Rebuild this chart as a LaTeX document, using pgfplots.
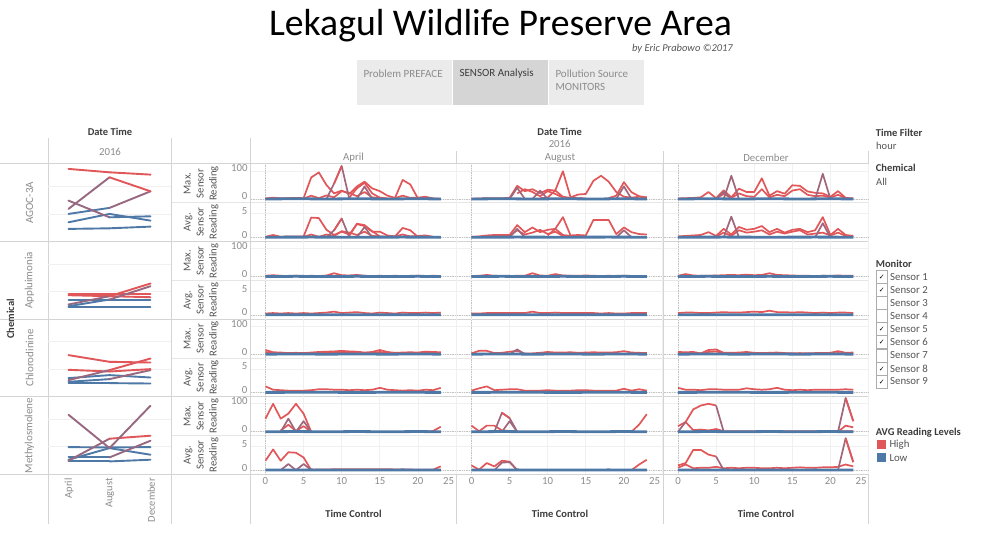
\documentclass[border=0pt]{standalone}
\usepackage{pgfplots}
\pgfplotsset{compat=1.18}
\usepackage{fontspec}
\setmainfont{Carlito}
\newfontfamily\dejavu{DejaVu Sans}
\definecolor{tred}{HTML}{E15759}
\definecolor{tblue}{HTML}{4E79A7}
\colorlet{tpurp}{tred!55!tblue}
\definecolor{tickc}{HTML}{8C8C8C}
\definecolor{gridc}{HTML}{F0F0F0}
\definecolor{dotc}{HTML}{C4C4C4}
\definecolor{sepc}{HTML}{D4D4D4}
\definecolor{sepl}{HTML}{E6E6E6}
\definecolor{darkt}{HTML}{3C3C3C}
\definecolor{midt}{HTML}{555555}
\definecolor{grayt}{HTML}{8C8C8C}
\definecolor{btn}{HTML}{EBEBEB}
\definecolor{btnd}{HTML}{D5D5D5}
\newcommand\fs[1]{\fontsize{#1}{#1}\selectfont}
\newcommand\R{\addplot[draw=tred, line width=1.7pt]}
\newcommand\Pu{\addplot[draw=tpurp, line width=1.7pt]}
\newcommand\B{\addplot[draw=tblue, line width=2.8pt]}
\newcommand\LL{\addplot[mesh, shader=flat mean, point meta=explicit, line width=1.9pt, line cap=round]}
\pgfplotsset{
 P/.style={scale only axis, clip=false, width=205pt, height=38.8pt, anchor=north west,
  xmin=-1.9, xmax=25, xtick={0,5,10,15,20,25},
  axis line style={draw=none}, tick style={draw=none},
  xmajorgrids, ymajorgrids, major grid style={draw=gridc, line width=0.7pt},
  xticklabels={}, yticklabels={},
  extra x ticks={0}, extra y ticks={0}, extra x tick labels={}, extra y tick labels={},
  extra tick style={grid=major, major grid style={draw=dotc, densely dotted, line width=0.7pt}},
  ticklabel style={font=\fs{10.8}, color=tickc},
  every axis plot/.append style={line join=round}},
 MX/.style={ymin=-13.6, ymax=125, ytick={0,100}},
 AV/.style={ymin=-0.91, ymax=7.34, ytick={0,5}},
 MXL/.style={yticklabels={0,100}, yticklabel style={yshift=2.5pt}},
 AVL/.style={yticklabels={0,5}, yticklabel style={yshift=2.5pt}},
 XL/.style={xticklabels={0,5,10,15,20,\makebox[0pt][r]{25\hspace{2pt}}}},
 LP/.style={scale only axis, clip=false, width=123pt, height=77.6pt, anchor=north west,
  xmin=-0.5, xmax=2.5, ymin=0, ymax=77.6, axis line style={draw=none}, tick style={draw=none},
  xtick=\empty, ytick={27.6,55.2}, yticklabels={}, ymajorgrids, major grid style={draw=gridc, line width=0.7pt},
  colormap={rb}{rgb255=(78,121,167) rgb255=(225,87,89)}, point meta min=0, point meta max=1}
}
\begin{document}
\begin{tikzpicture}
\fill[white] (0,0) rectangle (1000pt,-558pt);
\path[use as bounding box] (0,0) rectangle (1000pt,-558pt);
\begin{scope}[x=1pt,y=-1pt]
% buttons
\fill[btn] (356.7,60) rectangle (451.7,105);
\fill[btnd] (453,60) rectangle (547.7,105);
\fill[btn] (549.3,60) rectangle (643.7,105);
% separators
\foreach \yy in {202.8,280.4,358,435.6} {\draw[sepl, line width=0.9pt] (172,\yy) -- (868.7,\yy);}
\foreach \yy in {163.5,241.6,319.2,396.8,474.4} {\draw[sepc, line width=1.1pt] (0,\yy) -- (868.7,\yy);}
\draw[sepc, line width=1pt] (48,138) -- (48,524);
\draw[sepc, line width=1pt] (171.5,138) -- (171.5,524);
\draw[sepc, line width=1pt] (250.7,138) -- (250.7,524);
\draw[sepc, line width=1pt] (456.7,151) -- (456.7,524);
\draw[sepc, line width=1pt] (663.2,151) -- (663.2,524);
\draw[sepc, line width=1pt] (868.7,151) -- (868.7,524);
\end{scope}

% ===== left panels =====
\begin{axis}[LP, at={(48pt,-164pt)}]
\LL coordinates {(0,72.7) [1] (1,69.3) [1] (2,67) [1]};
\LL coordinates {(0,12.7) [0] (1,13.3) [0] (2,15) [0]};
\LL coordinates {(0,19.3) [0] (1,27.7) [0] (2,21) [0]};
\LL coordinates {(0,27.7) [0] (1,33.7) [0] (2,50.3) [1]};
\LL coordinates {(0,41) [1] (1,24.3) [0] (2,25.3) [0]};
\LL coordinates {(0,32.7) [0] (1,64.3) [1] (2,50.3) [1]};
\end{axis}
\begin{axis}[LP, at={(48pt,-241.6pt)}]
\LL coordinates {(0,12.3) [0] (1,12.3) [0] (2,12.3) [0]};
\LL coordinates {(0,19) [0] (1,19) [0] (2,19) [0]};
\LL coordinates {(0,25.3) [1] (1,25.3) [1] (2,25.3) [1]};
\LL coordinates {(0,24) [1] (1,23) [1] (2,22) [1]};
\LL coordinates {(0,14.7) [0] (1,23) [1] (2,35.7) [1]};
\LL coordinates {(0,13) [0] (1,19.7) [0] (2,33) [1]};
\end{axis}
\begin{axis}[LP, at={(48pt,-319.2pt)}]
\LL coordinates {(0,13.7) [0] (1,13.7) [0] (2,13.3) [0]};
\LL coordinates {(0,18.7) [0] (1,21.7) [0] (2,19.3) [0]};
\LL coordinates {(0,15) [0] (1,17.7) [0] (2,26.7) [1]};
\LL coordinates {(0,41.7) [1] (1,35) [1] (2,34.3) [1]};
\LL coordinates {(0,27) [1] (1,25.3) [1] (2,27.7) [1]};
\LL coordinates {(0,16.7) [0] (1,26.7) [1] (2,38.3) [1]};
\end{axis}
\begin{axis}[LP, at={(48pt,-396.8pt)}]
\LL coordinates {(0,13) [0] (1,13) [0] (2,14.7) [0]};
\LL coordinates {(0,27.3) [0] (1,27) [0] (2,27.3) [0]};
\LL coordinates {(0,14.7) [0] (1,26.3) [0] (2,19.7) [0]};
\LL coordinates {(0,17) [0] (1,17) [0] (2,33.7) [1]};
\LL coordinates {(0,13.7) [0] (1,35.7) [1] (2,38.7) [1]};
\LL coordinates {(0,59.7) [1] (1,26.3) [0] (2,68.7) [1]};
\end{axis}

% ===== row 1: Max AGOC-3A =====
\begin{axis}[P, MX, MXL, at={(251pt,-164pt)}]
\R coordinates {(0,2)(1,5)(2,2)(3,3)(4,4)(5,3)(6,77)(7,95)(8,50)(9,20)(10,30)(11,18)(12,45)(13,62)(14,38)(15,28)(16,12)(17,4)(18,68)(19,52)(20,2)(21,3)(22,1)(23,1)};
\R coordinates {(0,1)(3,2)(5,1)(6,12)(7,3)(8,13)(9,6)(10,28)(11,22)(12,10)(13,25)(14,6)(15,3)(16,1)(17,3)(18,12)(19,4)(20,5)(21,8)(22,2)(23,0)};
\R coordinates {(11,5)(12,38)(13,58)(14,20)(15,5)(16,2)};
\Pu coordinates {(8,0)(9,55)(10,118)(11,0)};
\R coordinates {(9,55)(10,118)};
\Pu coordinates {(12,0)(13,45)(14,0)};
\B coordinates {(0,0)(4,1)(8,0)(12,1)(16,0)(20,1)(23,0)};
\end{axis}
\begin{axis}[P, MX, at={(457pt,-164pt)}]
\R coordinates {(0,1)(1,2)(2,3)(3,3)(4,3)(5,4)(6,47)(7,28)(8,35)(9,21)(10,33)(11,30)(12,8)(13,4)(14,3)(15,2)};
\R coordinates {(6,20)(7,35)(8,25)(9,10)(10,28)(11,18)(12,5)};
\R coordinates {(9,3)(10,5)(11,31)(12,99)(13,6)(14,16)(15,18)(16,65)(17,83)(18,62)(19,25)(20,8)(21,5)(22,8)(23,6)};
\R coordinates {(18,3)(19,12)(20,60)(21,24)(22,10)(23,5)};
\Pu coordinates {(5,0)(6,40)(7,0)};
\Pu coordinates {(8,0)(9,30)(10,0)};
\Pu coordinates {(19,0)(20,45)(21,0)};
\B coordinates {(0,0)(4,1)(8,0)(12,1)(16,0)(20,1)(23,0)};
\end{axis}
\begin{axis}[P, MX, at={(663.5pt,-164pt)}]
\R coordinates {(0,2)(1,3)(2,4)(3,6)(4,25)(5,3)(6,31)(7,6)(8,37)(9,25)(10,25)(11,74)(12,12)(13,28)(14,19)(15,49)(16,47)(17,27)(18,22)(19,20)(20,8)(21,28)(22,4)(23,2)};
\R coordinates {(5,2)(6,18)(7,4)(8,20)(9,10)(10,8)(11,35)(12,6)(13,15)(14,10)(15,30)(16,35)(17,15)(18,10)(19,12)(20,5)(21,15)(22,3)(23,1)};
\Pu coordinates {(6,0)(7,83)(8,0)};
\Pu coordinates {(18,0)(19,90)(20,0)};
\Pu coordinates {(5,0)(6,25)(7,0)};
\B coordinates {(0,0)(4,1)(8,0)(12,1)(16,0)(20,1)(23,0)};
\end{axis}

% ===== row 2: Avg AGOC-3A =====
\begin{axis}[P, AV, AVL, at={(251pt,-202.8pt)}]
\R coordinates {(0,0.1)(1,0.5)(2,0.1)(3,0.2)(4,0.2)(5,0.2)(6,4.2)(7,4.1)(8,1.6)(9,0.5)(10,1.2)(11,0.6)(12,2.8)(13,2.4)(14,1.2)(15,1.2)(16,0.4)(17,0.2)(18,2.0)(19,1.5)(20,0.1)(21,0.2)(22,0.1)(23,0.1)};
\R coordinates {(5,0.1)(6,0.6)(7,0.1)(8,0.6)(9,0.3)(10,1.3)(11,1.0)(12,0.5)(13,1.2)(14,0.3)(15,0.2)(16,0.1)(17,0.2)(18,0.6)(19,0.2)(20,0.3)(21,0.4)(22,0.1)(23,0)};
\R coordinates {(11,0.3)(12,2.9)(13,2.6)(14,1.3)(15,0.2)};
\Pu coordinates {(8,0)(9,1.5)(10,4.0)(11,0)};
\R coordinates {(9,1.5)(10,4.0)};
\Pu coordinates {(12,0)(13,2.2)(14,0)};
\B coordinates {(0,0.03)(6,0.05)(12,0.03)(18,0.05)(23,0.03)};
\end{axis}
\begin{axis}[P, AV, at={(457pt,-202.8pt)}]
\R coordinates {(0,0.1)(1,0.2)(2,0.4)(3,0.5)(4,0.5)(5,0.5)(6,2.6)(7,1.1)(8,2.1)(9,1.1)(10,1.6)(11,1.8)(12,0.5)(13,0.3)};
\R coordinates {(5,0.3)(6,1.5)(7,0.6)(8,1.0)(9,1.6)(10,0.7)(11,1.2)(12,0.3)};
\R coordinates {(10,0.4)(11,1.8)(12,4.3)(13,0.4)(14,0.5)(15,0.4)(16,3.7)(17,3.7)(18,3.7)(19,0.7)(20,2.1)(21,1.1)(22,0.7)(23,0.6)};
\Pu coordinates {(19,0)(20,1.5)(21,0)};
\Pu coordinates {(5,0)(6,1.8)(7,0)};
\B coordinates {(0,0.03)(6,0.05)(12,0.03)(18,0.05)(23,0.03)};
\end{axis}
\begin{axis}[P, AV, at={(663.5pt,-202.8pt)}]
\R coordinates {(0,0.2)(1,0.3)(2,0.4)(3,0.5)(4,1.1)(5,0.3)(6,1.8)(7,0.6)(8,2.2)(9,1.6)(10,1.8)(11,2.4)(12,1.1)(13,1.8)(14,1.0)(15,1.6)(16,1.8)(17,1.1)(18,1.5)(19,4.3)(20,0.5)(21,1.8)(22,0.5)(23,0.3)};
\R coordinates {(5,0.2)(6,1.0)(7,0.3)(8,1.5)(9,1.0)(10,1.2)(11,1.5)(12,0.6)(13,1.2)(14,0.8)(15,1.2)(16,1.5)(17,0.6)(18,0.8)(19,1.0)(20,0.4)(21,1.0)(22,0.3)(23,0.2)};
\Pu coordinates {(6,0)(7,4.4)(8,0)};
\Pu coordinates {(18,0)(19,3.0)(20,0)};
\B coordinates {(0,0.03)(6,0.05)(12,0.03)(18,0.05)(23,0.03)};
\end{axis}

% ===== row 3: Max Appluimonia =====
\begin{axis}[P, MX, MXL, at={(251pt,-241.6pt)}]
\R coordinates {(0,3)(1,5)(2,3)(3,2)(4,3)(5,2)(6,3)(7,2)(8,4)(9,12)(10,5)(11,4)(12,6)(13,3)(14,2)(15,3)(16,2)(17,3)(18,2)(19,2)(20,3)(21,2)(22,3)(23,2)};
\B coordinates {(0,0)(4,1)(8,0)(12,1)(16,0)(20,1)(23,0)};
\end{axis}
\begin{axis}[P, MX, at={(457pt,-241.6pt)}]
\R coordinates {(0,2)(1,3)(2,6)(3,3)(4,2)(5,2)(6,3)(7,3)(8,12)(9,4)(10,3)(11,9)(12,4)(13,3)(14,3)(15,4)(16,3)(17,2)(18,3)(19,2)(20,3)(21,2)(22,2)(23,2)};
\B coordinates {(0,0)(4,1)(8,0)(12,1)(16,0)(20,1)(23,0)};
\end{axis}
\begin{axis}[P, MX, at={(663.5pt,-241.6pt)}]
\R coordinates {(0,3)(1,9)(2,4)(3,3)(4,3)(5,4)(6,5)(7,6)(8,5)(9,7)(10,5)(11,6)(12,12)(13,6)(14,5)(15,4)(16,3)(17,3)(18,2)(19,3)(20,2)(21,4)(22,3)(23,3)};
\B coordinates {(0,0)(4,1)(8,0)(12,1)(16,0)(20,1)(23,0)};
\end{axis}

% ===== row 4: Avg Appluimonia =====
\begin{axis}[P, AV, AVL, at={(251pt,-280.4pt)}]
\R coordinates {(0,0.3)(1,0.4)(2,0.3)(3,0.4)(4,0.3)(5,0.4)(6,0.3)(7,0.4)(8,0.5)(9,0.7)(10,0.4)(11,0.5)(12,0.6)(13,0.4)(14,0.3)(15,0.5)(16,0.4)(17,0.3)(18,0.5)(19,0.4)(20,0.4)(21,0.5)(22,0.4)(23,0.5)};
\B coordinates {(0,0.03)(6,0.05)(12,0.03)(18,0.05)(23,0.03)};
\end{axis}
\begin{axis}[P, AV, at={(457pt,-280.4pt)}]
\R coordinates {(0,0.3)(1,0.3)(2,0.4)(3,0.4)(4,0.4)(5,0.4)(6,0.4)(7,0.4)(8,0.7)(9,0.4)(10,0.4)(11,0.5)(12,0.4)(13,0.4)(14,0.4)(15,0.4)(16,0.4)(17,0.3)(18,0.4)(19,0.3)(20,0.3)(21,0.4)(22,0.4)(23,0.4)};
\B coordinates {(0,0.03)(6,0.05)(12,0.03)(18,0.05)(23,0.03)};
\end{axis}
\begin{axis}[P, AV, at={(663.5pt,-280.4pt)}]
\R coordinates {(0,0.4)(1,0.5)(2,0.5)(3,0.4)(4,0.4)(5,0.5)(6,0.6)(7,0.5)(8,0.5)(9,0.6)(10,0.7)(11,0.6)(12,0.9)(13,0.6)(14,0.6)(15,0.5)(16,0.6)(17,0.5)(18,0.4)(19,0.5)(20,0.4)(21,0.5)(22,0.5)(23,0.4)};
\B coordinates {(0,0.03)(6,0.05)(12,0.03)(18,0.05)(23,0.03)};
\end{axis}

% ===== row 5: Max Chlorodinine =====
\begin{axis}[P, MX, MXL, at={(251pt,-319.2pt)}]
\R coordinates {(0,15)(1,7)(2,6)(3,4)(4,5)(5,4)(6,6)(7,8)(8,9)(9,10)(10,12)(11,10)(12,9)(13,6)(14,8)(15,15)(16,8)(17,5)(18,6)(19,7)(20,6)(21,9)(22,8)(23,7)};
\R coordinates {(0,8)(1,4)(2,3)(3,2)(4,3)(5,2)(6,3)(7,5)(8,4)(9,6)(10,8)(11,5)(12,4)(13,3)(14,4)(15,8)(16,4)(17,3)(18,3)(19,4)(20,3)(21,5)(22,5)(23,4)};
\B coordinates {(0,0)(4,1)(8,0)(12,1)(16,0)(20,1)(23,0)};
\end{axis}
\begin{axis}[P, MX, at={(457pt,-319.2pt)}]
\R coordinates {(0,3)(1,12)(2,12)(3,4)(4,5)(5,9)(6,12)(7,2)(8,3)(9,5)(10,8)(11,6)(12,6)(13,7)(14,5)(15,6)(16,7)(17,6)(18,6)(19,7)(20,11)(21,6)(22,5)(23,4)};
\Pu coordinates {(5,0)(6,17)(7,0)};
\B coordinates {(0,0)(4,1)(8,0)(12,1)(16,0)(20,1)(23,0)};
\end{axis}
\begin{axis}[P, MX, at={(663.5pt,-319.2pt)}]
\R coordinates {(0,8)(1,7)(2,8)(3,3)(4,15)(5,17)(6,5)(7,5)(8,6)(9,8)(10,5)(11,4)(12,5)(13,6)(14,4)(15,3)(16,4)(17,3)(18,4)(19,4)(20,5)(21,11)(22,5)(23,6)};
\R coordinates {(0,3)(1,5)(2,4)(3,2)(4,8)(5,10)(6,3)(7,3)(8,4)(9,4)(10,3)(12,3)(15,2)(18,2)(21,4)(23,3)};
\B coordinates {(0,0)(4,1)(8,0)(12,1)(16,0)(20,1)(23,0)};
\end{axis}

% ===== row 6: Avg Chlorodinine =====
\begin{axis}[P, AV, AVL, at={(251pt,-358pt)}]
\R coordinates {(0,1.3)(1,0.6)(2,0.5)(3,0.4)(4,0.4)(5,0.4)(6,0.5)(7,0.7)(8,0.7)(9,0.6)(10,0.6)(11,0.5)(12,0.6)(13,0.5)(14,0.6)(15,1.0)(16,0.6)(17,0.5)(18,0.4)(19,0.5)(20,0.4)(21,0.6)(22,0.5)(23,1.0)};
\B coordinates {(0,0.03)(6,0.05)(12,0.03)(18,0.05)(23,0.03)};
\end{axis}
\begin{axis}[P, AV, at={(457pt,-358pt)}]
\R coordinates {(0,0.4)(1,0.9)(2,1.3)(3,0.5)(4,0.6)(5,0.7)(6,0.7)(7,0.4)(8,0.4)(9,0.4)(10,0.5)(11,0.4)(12,0.4)(13,0.4)(14,0.5)(15,0.5)(16,0.4)(17,0.4)(18,0.4)(19,0.4)(20,0.8)(21,0.4)(22,0.7)(23,0.4)};
\B coordinates {(0,0.03)(6,0.05)(12,0.03)(18,0.05)(23,0.03)};
\end{axis}
\begin{axis}[P, AV, at={(663.5pt,-358pt)}]
\R coordinates {(0,1.0)(1,0.6)(2,0.6)(3,0.5)(4,0.7)(5,0.7)(6,0.6)(7,0.6)(8,0.6)(9,0.9)(10,0.7)(11,0.6)(12,0.7)(13,1.0)(14,0.6)(15,0.5)(16,0.6)(17,0.5)(18,0.6)(19,0.6)(20,0.6)(21,0.6)(22,0.7)(23,0.6)};
\B coordinates {(0,0.03)(6,0.05)(12,0.03)(18,0.05)(23,0.03)};
\end{axis}

% ===== row 7: Max Methylosmolene =====
\begin{axis}[P, MX, MXL, at={(251pt,-396.8pt)}]
\R coordinates {(0,47)(1,100)(2,47)(3,65)(4,100)(5,65)(6,0)};
\R coordinates {(2,5)(3,25)(4,3)(5,20)(6,0)};
\Pu coordinates {(2,0)(3,47)(4,0)(5,38)(6,0)};
\R coordinates {(21,0)(22,3)(23,18)};
\B coordinates {(0,0)(4,1)(8,0)(12,1)(16,0)(20,1)(23,0)};
\end{axis}
\begin{axis}[P, MX, at={(457pt,-396.8pt)}]
\R coordinates {(0,22)(1,2)(2,22)(3,22)(4,5)(5,3)(6,0)};
\Pu coordinates {(3,0)(4,68)(5,49)(6,0)};
\R coordinates {(4,68)(5,49)};
\Pu coordinates {(4,0)(5,38)(6,0)};
\R coordinates {(21,0)(22,26)(23,63)};
\B coordinates {(0,0)(4,1)(8,0)(12,1)(16,0)(20,1)(23,0)};
\end{axis}
\begin{axis}[P, MX, at={(663.5pt,-396.8pt)}]
\R coordinates {(0,20)(1,35)(2,6)(3,8)(4,5)(5,10)(6,2)(9,2)(14,2)(19,2)(23,2)};
\Pu coordinates {(0,0)(1,35)};
\R coordinates {(1,35)(2,80)(3,94)(4,100)(5,94)};
\Pu coordinates {(5,94)(6,0)};
\R coordinates {(21,0)(22,22)(23,16)};
\Pu coordinates {(21,0)(22,121)(23,38)};
\R coordinates {(22,121)(23,38)};
\B coordinates {(0,0)(4,1)(8,0)(12,1)(16,0)(20,1)(23,0)};
\end{axis}

% ===== row 8: Avg Methylosmolene =====
\begin{axis}[P, AV, AVL, XL, at={(251pt,-435.6pt)}]
\R coordinates {(0,2.0)(1,4.4)(2,2.0)(3,3.8)(4,3.7)(5,2.7)(6,0)};
\Pu coordinates {(2,0)(3,1.3)(4,0)(5,1.3)(6,0)};
\R coordinates {(6,0.1)(10,0.2)(15,0.2)(20,0.1)(22,0.1)(23,0.8)};
\B coordinates {(0,0.03)(6,0.05)(12,0.03)(18,0.05)(23,0.03)};
\end{axis}
\begin{axis}[P, AV, XL, at={(457pt,-435.6pt)}]
\R coordinates {(0,1.0)(1,0.1)(2,1.5)(3,0.8)(4,2.0)(5,1.8)(6,0)};
\Pu coordinates {(3,0)(4,1.6)(5,1.7)(6,0)};
\R coordinates {(21,0)(22,1.2)(23,2.2)};
\B coordinates {(0,0.03)(6,0.05)(12,0.03)(18,0.05)(23,0.03)};
\end{axis}
\begin{axis}[P, AV, XL, at={(663.5pt,-435.6pt)}]
\R coordinates {(0,0.5)(1,1.2)(2,0.4)(3,0.5)(4,0.5)(5,0.7)(6,0.4)(7,0.5)(8,0.4)(9,0.5)(10,0.5)(11,0.4)(12,0.4)(13,0.5)(14,0.4)(15,0.5)(16,0.6)(17,0.5)(18,0.5)(19,0.6)(20,0.6)(21,0.7)(22,1.2)(23,0.8)};
\R coordinates {(0,1.0)(1,1.5)(2,4.3)(3,4.3)(4,3.3)(5,2.9)};
\Pu coordinates {(5,2.9)(6,0)};
\Pu coordinates {(21,0)(22,6.8)(23,1.7)};
\R coordinates {(22,6.8)(23,1.7)};
\B coordinates {(0,0.03)(6,0.05)(12,0.03)(18,0.05)(23,0.03)};
\end{axis}

% ===== texts =====
\begin{scope}[x=1pt,y=-1pt]
\node[font=\fs{37.7}, anchor=base, inner sep=0] at (500.5,35) {Lekagul Wildlife Preserve Area};
\node[font=\itshape\fs{10.5}, text=midt, anchor=base east, inner sep=0] at (733,51) {by Eric Prabowo ©2017};
\node[font=\fs{11}, text=grayt, anchor=west, inner sep=0] at (363.3,73.3) {Problem PREFACE};
\node[font=\fs{11}, text=darkt, anchor=west, inner sep=0] at (459.3,73.3) {SENSOR Analysis};
\node[font=\fs{11}, text=grayt, anchor=west, inner sep=0] at (555.3,73.3) {Pollution Source};
\node[font=\fs{11}, text=grayt, anchor=west, inner sep=0] at (555.3,86.7) {MONITORS};
% left panel headers
\node[font=\bfseries\fs{10.5}, text=darkt] at (110,132.3) {Date Time};
\node[font=\fs{10.8}, text=grayt] at (110,151.7) {2016};
\node[font=\bfseries\fs{10.5}, text=darkt, rotate=90] at (10.5,319) {Chemical};
\node[font=\fs{11}, text=grayt, rotate=90] at (29.5,202.8) {AGOC-3A};
\node[font=\fs{11}, text=grayt, rotate=90] at (29.5,280.4) {Appluimonia};
\node[font=\fs{11}, text=grayt, rotate=90] at (29.5,358) {Chlorodinine};
\node[font=\fs{11}, text=grayt, rotate=90] at (29.5,435.6) {Methylosmolene};
\node[font=\fs{10.5}, text=grayt, rotate=90, anchor=east, inner sep=0] at (69,478) {April};
\node[font=\fs{10.5}, text=grayt, rotate=90, anchor=east, inner sep=0] at (110,478) {August};
\node[font=\fs{10.5}, text=grayt, rotate=90, anchor=east, inner sep=0] at (151.3,478) {December};
% main headers
\node[font=\bfseries\fs{10.5}, text=darkt] at (559.7,132.3) {Date Time};
\node[font=\fs{10.8}, text=grayt] at (559.7,144.3) {2016};
\node[font=\fs{10.8}, text=grayt] at (353.5,157.7) {April};
\node[font=\fs{10.8}, text=grayt] at (560,157.7) {August};
\node[font=\fs{10.8}, text=grayt] at (766,157.7) {December};
\foreach \yc/\tt in {183.4/Max.,222.2/Avg.,261/Max.,299.8/Avg.,338.6/Max.,377.4/Avg.,416.2/Max.,455/Avg.} {
  \node[font=\fontsize{10.7}{13}\selectfont, text=midt, rotate=90, align=center] at (201,\yc) {\tt\\Sensor\\Reading};
}
\node[font=\bfseries\fs{10.5}, text=darkt] at (353.5,514.3) {Time Control};
\node[font=\bfseries\fs{10.5}, text=darkt] at (560,514.3) {Time Control};
\node[font=\bfseries\fs{10.5}, text=darkt] at (766,514.3) {Time Control};
% right panel
\node[font=\bfseries\fs{10.5}, text=darkt, anchor=west, inner sep=0] at (875.7,133.3) {Time Filter};
\node[font=\fs{10.5}, text=midt, anchor=west, inner sep=0] at (876,146) {hour};
\node[font=\bfseries\fs{10.5}, text=darkt, anchor=west, inner sep=0] at (875.7,168.3) {Chemical};
\node[font=\fs{10.5}, text=midt, anchor=west, inner sep=0] at (876,181.7) {All};
\node[font=\bfseries\fs{10.5}, text=darkt, anchor=west, inner sep=0] at (875.7,263.8) {Monitor};
\foreach \yy/\n/\c in {276.7/1/1,289.8/2/1,302.9/3/0,316/4/0,329.1/5/1,342.2/6/1,355.3/7/0,368.4/8/1,381.5/9/1} {
  \draw[gray!65, line width=0.6pt] (876,\yy-6.5) rectangle (887.5,\yy+6.5);
  \ifnum\c=1 \node[font=\dejavu\fs{7}, text=black, inner sep=0] at (881.7,\yy+0.5) {✓};\fi
  \node[font=\fs{10.8}, text=midt, anchor=west, inner sep=0] at (890,\yy) {Sensor \n};
}
\node[font=\bfseries\fs{10.5}, text=darkt, anchor=west, inner sep=0] at (875.7,432.7) {AVG Reading Levels};
\fill[tred] (876.7,440) rectangle (886,449.3);
\fill[tblue] (876.7,453) rectangle (886,462.3);
\node[font=\fs{10.8}, text=midt, anchor=west, inner sep=0] at (889.3,444.7) {High};
\node[font=\fs{10.8}, text=midt, anchor=west, inner sep=0] at (889.3,458.3) {Low};
\end{scope}
\end{tikzpicture}
\end{document}
